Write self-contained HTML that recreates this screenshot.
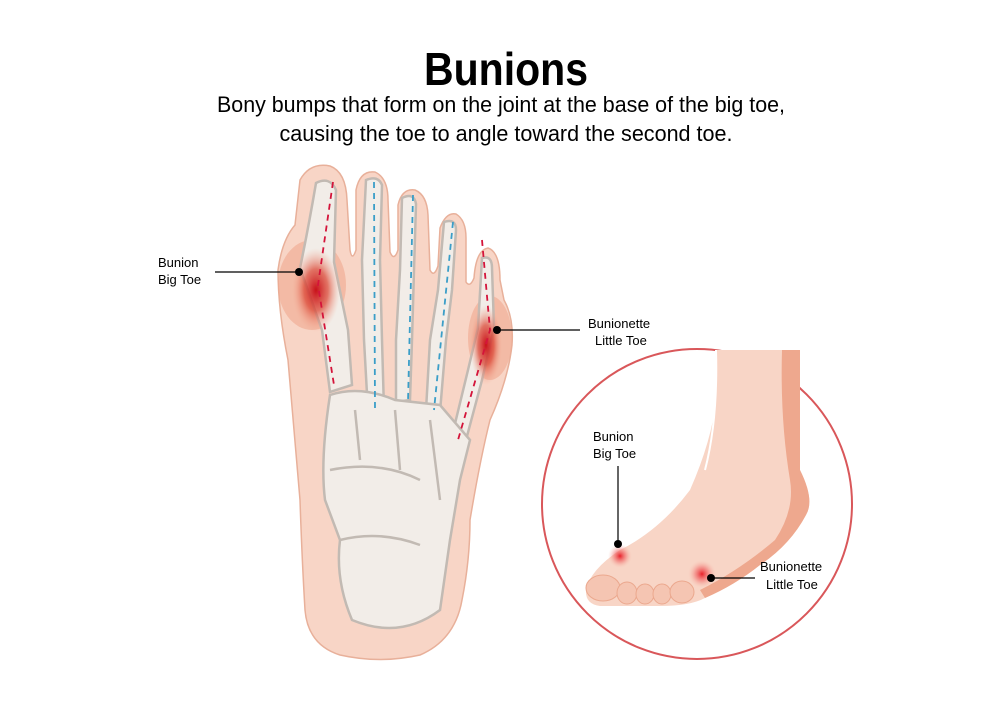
<!DOCTYPE html>
<html><head><meta charset="utf-8"><style>html,body{margin:0;padding:0;background:#fff}svg{display:block}</style></head><body>
<svg width="983" height="701" viewBox="0 0 983 701" xmlns="http://www.w3.org/2000/svg" font-family="Liberation Sans, sans-serif">
<defs>
<radialGradient id="r1"><stop offset="0" stop-color="#c8101a"/><stop offset="0.5" stop-color="#dc4a38" stop-opacity="0.75"/><stop offset="1" stop-color="#f4a890" stop-opacity="0"/></radialGradient>
<radialGradient id="r2"><stop offset="0" stop-color="#e8202a"/><stop offset="0.5" stop-color="#f06060" stop-opacity="0.5"/><stop offset="1" stop-color="#f8c0b0" stop-opacity="0"/></radialGradient>
</defs>
<text x="506" y="85" font-size="46" font-weight="bold" text-anchor="middle" textLength="164" lengthAdjust="spacingAndGlyphs">Bunions</text>
<text x="501" y="112" font-size="22" text-anchor="middle" textLength="568" lengthAdjust="spacingAndGlyphs">Bony bumps that form on the joint at the base of the big toe,</text>
<text x="506" y="141" font-size="22" text-anchor="middle" textLength="453" lengthAdjust="spacingAndGlyphs">causing the toe to angle toward the second toe.</text>

<path d="M300 180 Q310 162 330 166 Q346 172 347 200 L350 250 Q352 262 356 250 L356 190 Q360 170 375 172 Q388 178 388 200 L390 252 Q394 262 398 250 L398 205 Q402 188 415 190 Q427 195 428 215 L430 270 Q434 278 438 266 L440 228 Q446 212 456 214 Q466 220 466 238 L466 282 Q470 288 474 278 Q476 250 488 248 Q500 252 500 280 L504 300 Q514 318 512 345 Q508 380 490 420 Q480 460 470 520 Q470 560 462 600 Q455 640 420 655 Q380 664 340 655 Q308 645 305 610 Q302 560 300 500 Q295 440 288 360 Q278 310 278 270 Q282 240 295 225 Z" fill="#f8d5c6" stroke="#e8b09a" stroke-width="1.5"/>
<ellipse cx="312" cy="285" rx="34" ry="45" fill="#f0a890" opacity="0.6"/>
<ellipse cx="490" cy="338" rx="22" ry="42" fill="#f0a890" opacity="0.6"/>
<g fill="#f2ede8" stroke="#c2bab3" stroke-width="2.5">
<path d="M316 183 Q330 176 336 190 L334 262 L348 330 L352 385 L330 392 L322 330 L300 268 Q308 230 316 183Z"/>
<path d="M366 180 Q378 175 382 185 L380 260 L382 340 L384 410 L368 412 L364 340 L362 260Z"/>
<path d="M402 198 Q414 192 416 204 L414 270 L412 340 L410 400 L396 402 L396 340 L400 270Z"/>
<path d="M444 222 Q456 218 456 230 L452 290 L446 340 L440 412 L426 410 L430 340 L438 290Z"/>
<path d="M482 258 Q492 255 492 268 L494 328 L482 380 L466 440 L452 436 L468 370 L478 328Z"/>
<path d="M330 395 Q360 385 395 400 L440 405 L470 440 L460 480 L450 540 L440 610 Q400 640 352 620 Q335 580 340 540 L325 500 Q320 460 330 395Z"/>
</g>
<g fill="none" stroke="#c2bab3" stroke-width="2.5"><path d="M330 470 Q380 460 420 480"/><path d="M340 540 Q380 530 420 545"/><path d="M355 410 L360 460"/><path d="M395 410 L400 470"/><path d="M430 420 L440 500"/></g>
<ellipse cx="316" cy="290" rx="24" ry="42" fill="url(#r1)"/>
<ellipse cx="486" cy="345" rx="16" ry="40" fill="url(#r1)"/>
<g stroke-dasharray="6 5" stroke-width="1.8" fill="none">
<path d="M333 182 L318 285 L334 385" stroke="#d4143a"/>
<path d="M482 240 L490 330 L458 440" stroke="#d4143a"/>
<path d="M374 182 L375 410" stroke="#3a9ec8"/>
<path d="M413 195 L408 402" stroke="#3a9ec8"/>
<path d="M453 222 L434 410" stroke="#3a9ec8"/>
</g>
<text x="158" y="267" font-size="13">Bunion</text>
<text x="158" y="284" font-size="13">Big Toe</text>
<line x1="215" y1="272" x2="299" y2="272" stroke="#000" stroke-width="1.2"/>
<circle cx="299" cy="272" r="4" fill="#000"/>
<text x="588" y="328" font-size="13">Bunionette</text>
<text x="595" y="345" font-size="13">Little Toe</text>
<line x1="497" y1="330" x2="580" y2="330" stroke="#000" stroke-width="1.2"/>
<circle cx="497" cy="330" r="4" fill="#000"/>

<circle cx="697" cy="504" r="155" fill="#fff" stroke="#d9575a" stroke-width="2"/>
<path d="M716 350 L800 350 Q800 400 800 470 Q815 500 806 515 Q790 545 760 565 Q735 585 705 598 Q690 606 660 606 L600 606 Q585 604 586 590 Q590 570 620 550 Q660 530 690 490 Q712 440 716 400Z" fill="#f8d5c6"/>
<path d="M782 350 L800 350 L800 470 Q815 500 806 515 Q790 545 760 565 Q735 585 705 598 L700 590 Q740 570 775 540 Q795 510 790 480 Q780 420 782 350Z" fill="#eea88e"/>
<path d="M716 350 Q718 420 705 470" fill="none" stroke="#fff" stroke-width="2"/>
<g fill="#f5c5b2" stroke="#eba88e" stroke-width="1"><ellipse cx="603" cy="588" rx="17" ry="13"/><ellipse cx="627" cy="593" rx="10" ry="11"/><ellipse cx="645" cy="594" rx="9" ry="10"/><ellipse cx="662" cy="594" rx="9" ry="10"/><ellipse cx="682" cy="592" rx="12" ry="11"/></g>
<circle cx="620" cy="556" r="12" fill="url(#r2)"/>
<circle cx="702" cy="574" r="14" fill="url(#r2)"/>
<text x="593" y="441" font-size="13">Bunion</text>
<text x="593" y="458" font-size="13">Big Toe</text>
<line x1="618" y1="466" x2="618" y2="544" stroke="#000" stroke-width="1.2"/>
<circle cx="618" cy="544" r="4" fill="#000"/>
<text x="760" y="571" font-size="13">Bunionette</text>
<text x="766" y="589" font-size="13">Little Toe</text>
<line x1="711" y1="578" x2="755" y2="578" stroke="#000" stroke-width="1.2"/>
<circle cx="711" cy="578" r="4" fill="#000"/>
</svg>
</body></html>
